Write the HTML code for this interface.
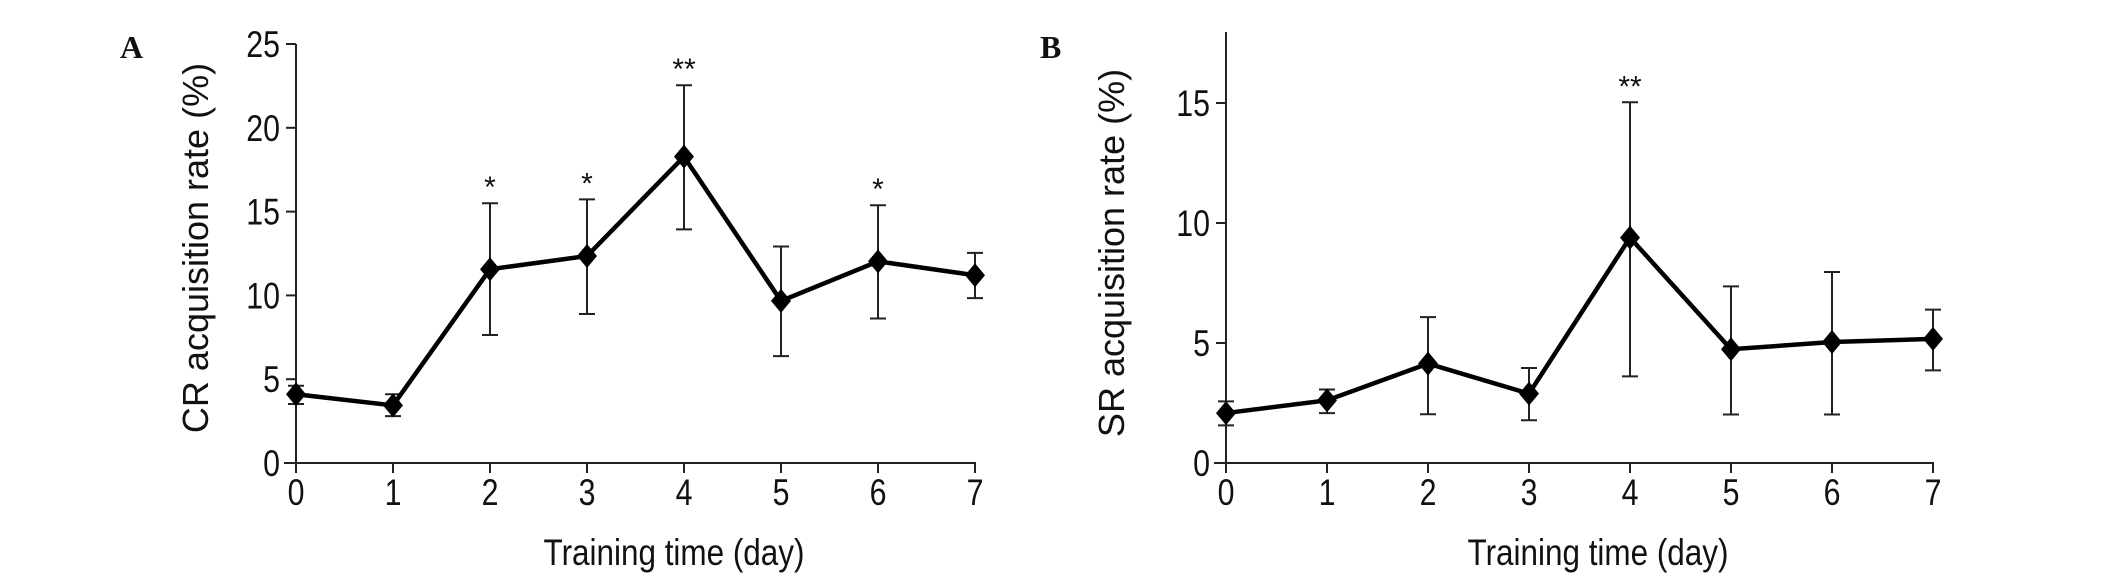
<!DOCTYPE html>
<html><head><meta charset="utf-8"><style>
html,body{margin:0;padding:0;background:#fff;width:2126px;height:582px;overflow:hidden}
svg text{font-family:"Liberation Sans",Arial,sans-serif;fill:#111}
</style></head><body>
<svg id="fig" width="2126" height="582" viewBox="0 0 2126 582" xmlns="http://www.w3.org/2000/svg">
<text x="120" y="58" style="font-family:'Liberation Serif',serif;font-weight:bold;font-size:32px">A</text>
<text x="1040" y="58" style="font-family:'Liberation Serif',serif;font-weight:bold;font-size:32px">B</text>
<g id="chartA"></g>
<g id="chartB"></g>
</svg>
<script>
const days = [0,1,2,3,4,5,6,7];
const crMean = [4.1,3.44,11.56,12.35,18.28,9.67,12.03,11.2];
const crHigh = [4.61,4.1,15.5,15.73,22.54,12.92,15.38,12.54];
const crLow = [3.52,2.8,7.64,8.89,13.94,6.38,8.62,9.84];
const crSig = ["","","*","*","**","","*",""];
const crTicks = [0,5,10,15,20,25];
const srMean = [2.08,2.61,4.14,2.89,9.39,4.74,5.04,5.17];
const srHigh = [2.57,3.06,6.08,3.96,15.03,7.36,7.96,6.39];
const srLow = [1.57,2.08,2.03,1.78,3.61,2.02,2.02,3.86];
const srSig = ["","","","","**","","",""];
const srTicks = [0,5,10,15];

const NS="http://www.w3.org/2000/svg";
function mk(parent,tag,attrs,txt){const e=document.createElementNS(NS,tag);for(const k in attrs)e.setAttribute(k,attrs[k]);if(txt!==undefined)e.textContent=txt;parent.appendChild(e);return e;}

function draw(gid,cfg){
  const g=document.getElementById(gid);
  const X=d=>cfg.x0+(d-days[0])*cfg.dx;
  const Y=v=>cfg.y0-(v-cfg.ymin)*(cfg.y0-cfg.yTop)/(cfg.ymaxTick-cfg.ymin);
  // y axis
  let e=mk(g,'line',{x1:cfg.x0,y1:cfg.axisTop,x2:cfg.x0,y2:cfg.y0+1,stroke:'#222','stroke-width':2});
  
  
  e=mk(g,'line',{x1:cfg.x0-12,y1:cfg.y0,x2:X(days[days.length-1])+1,y2:cfg.y0,stroke:'#222','stroke-width':2});
  
  
  cfg.ticks.forEach(t=>{
    const y=Y(t);
    let l=mk(g,'line',{x1:cfg.x0-10,y1:y,x2:cfg.x0,y2:y,stroke:'#222','stroke-width':2});
    
    
    let tx=mk(g,'text',{x:0,y:0,'text-anchor':'end','font-size':37,transform:`translate(${cfg.x0-16},${y+13}) scale(0.82,1)`},String(t));
    
    
  });
  days.forEach(d=>{
    const x=X(d);
    let l=mk(g,'line',{x1:x,y1:cfg.y0,x2:x,y2:cfg.y0+10,stroke:'#222','stroke-width':2});
    
    
    let tx=mk(g,'text',{x:0,y:0,'text-anchor':'middle','font-size':37,transform:`translate(${x},${505}) scale(0.82,1)`},String(d));
    
    
  });
  // error bars
  days.forEach((d,i)=>{
    const x=X(d);
    let eb=mk(g,'path',{d:`M${x},${Y(cfg.low[i])}V${Y(cfg.high[i])}M${x-8},${Y(cfg.low[i])}H${x+8}M${x-8},${Y(cfg.high[i])}H${x+8}`,stroke:'#222','stroke-width':2,fill:'none'});
    
    
    if(cfg.sig[i]){
      let s=mk(g,'text',{x:x,y:Y(cfg.high[i])-6,'text-anchor':'middle','font-size':30},cfg.sig[i]);
      
      
    }
  });
  const pts=days.map((d,i)=>X(d)+','+Y(cfg.mean[i])).join(' ');
  let pl=mk(g,'polyline',{points:pts,fill:'none',stroke:'#000','stroke-width':4.5,'stroke-linejoin':'miter'});
  
  
  days.forEach((d,i)=>{
    const x=X(d),y=Y(cfg.mean[i]);
    let m=mk(g,'path',{d:`M${x},${y-12}L${x+10},${y}L${x},${y+12}L${x-10},${y}Z`,fill:'#000'});
    
    
  });
  let yt=mk(g,'text',{x:0,y:0,'text-anchor':'middle','font-size':36,transform:`translate(${cfg.ylabX},${cfg.ylabY}) rotate(-90)`},cfg.ylab);
  
  
  let xt=mk(g,'text',{x:0,y:0,'text-anchor':'middle','font-size':37,transform:`translate(${cfg.xlabX},565) scale(0.85,1)`},'Training time (day)');
  
  
}

draw('chartA',{x0:296,dx:97,y0:463,yTop:44,ymin:0,ymaxTick:25,axisTop:44,ticks:crTicks,mean:crMean,high:crHigh,low:crLow,sig:crSig,ylab:'CR acquisition rate (%)',ylabX:208,ylabY:248,xlabX:674});
draw('chartB',{x0:1226,dx:101,y0:463,yTop:103,ymin:0,ymaxTick:15,axisTop:32,ticks:srTicks,mean:srMean,high:srHigh,low:srLow,sig:srSig,ylab:'SR acquisition rate (%)',ylabX:1124,ylabY:253,xlabX:1598});
</script>
</body></html>
